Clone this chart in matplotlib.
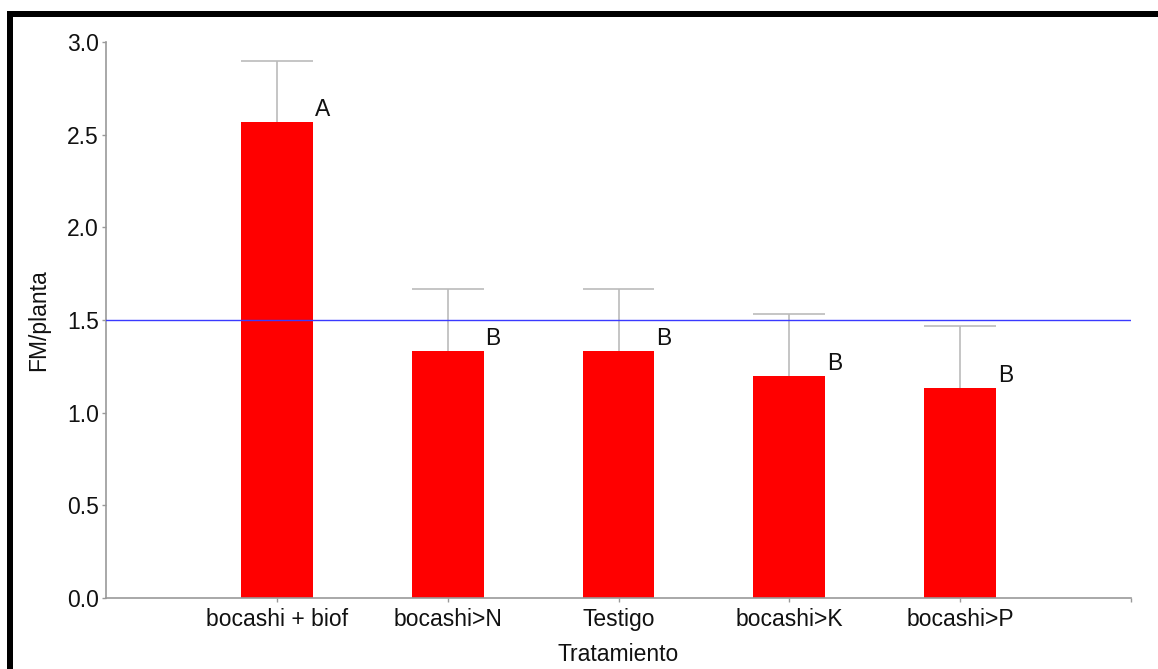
import matplotlib
matplotlib.use("Agg")
import matplotlib.pyplot as plt
from matplotlib.patches import Rectangle

categories = ["bocashi + biof", "bocashi>N", "Testigo", "bocashi>K", "bocashi>P"]
means = [2.567, 1.333, 1.333, 1.200, 1.133]
errors = [0.333, 0.333, 0.333, 0.333, 0.333]
letters = ["A", "B", "B", "B", "B"]
ref_value = 1.5
yticks = [0.0, 0.5, 1.0, 1.5, 2.0, 2.5, 3.0]

plt.rcParams['font.family'] = ['Liberation Sans', 'DejaVu Sans']

W, H = 1158, 669
fig = plt.figure(figsize=(W / 100, H / 100), dpi=100)
ax = fig.add_axes([106 / W, (H - 598) / H, (1131 - 106) / W, (598 - 42) / H])

x = list(range(len(categories)))
bw = 0.42
ax.bar(x, means, width=bw, color='#ff0000', edgecolor='none', zorder=2)

tops = [m + e for m, e in zip(means, errors)]
ax.vlines(x, means, tops, color='#bbbbbb', linewidth=1.2, zorder=1)
ax.hlines(tops, [xi - bw / 2 for xi in x], [xi + bw / 2 for xi in x],
          color='#bbbbbb', linewidth=1.2, zorder=1)

ax.axhline(ref_value, color='#3a3aff', linewidth=1.0, zorder=3)

for xi, m, lab in zip(x, means, letters):
    ax.annotate(lab, (xi + bw / 2, m), xytext=(1.5, 4.2), textcoords='offset points',
                ha='left', va='baseline', fontsize=16.5, color='#111111')

ax.set_xlim(-1, 5)
ax.set_ylim(0, 3.0)
ax.set_xticks(x)
ax.set_xticklabels(categories)
ax.set_xticks([5], minor=True)
ax.set_yticks(yticks)
ax.set_yticklabels([f"{v:.1f}" for v in yticks])

for s in ['top', 'right']:
    ax.spines[s].set_visible(False)
for s in ['left', 'bottom']:
    ax.spines[s].set_color('#999999')
    ax.spines[s].set_linewidth(1.2)

ax.tick_params(axis='both', which='both', direction='out', length=3, width=1,
               color='#999999', labelsize=16.5, labelcolor='#111111', pad=2)
ax.tick_params(axis='x', which='major', pad=4)

ax.set_xlabel("Tratamiento", fontsize=16.5, color='#111111', labelpad=9)
ax.set_ylabel("FM/planta", fontsize=16.5, color='#111111', labelpad=12)

# black frame (top and left edges)
fig.add_artist(Rectangle((7 / W, (H - 17) / H), 1 - 7 / W, 6 / H,
                         transform=fig.transFigure, color='black', lw=0))
fig.add_artist(Rectangle((7 / W, 0), 6 / W, (H - 11) / H,
                         transform=fig.transFigure, color='black', lw=0))

fig.savefig("out.png", dpi=100)
